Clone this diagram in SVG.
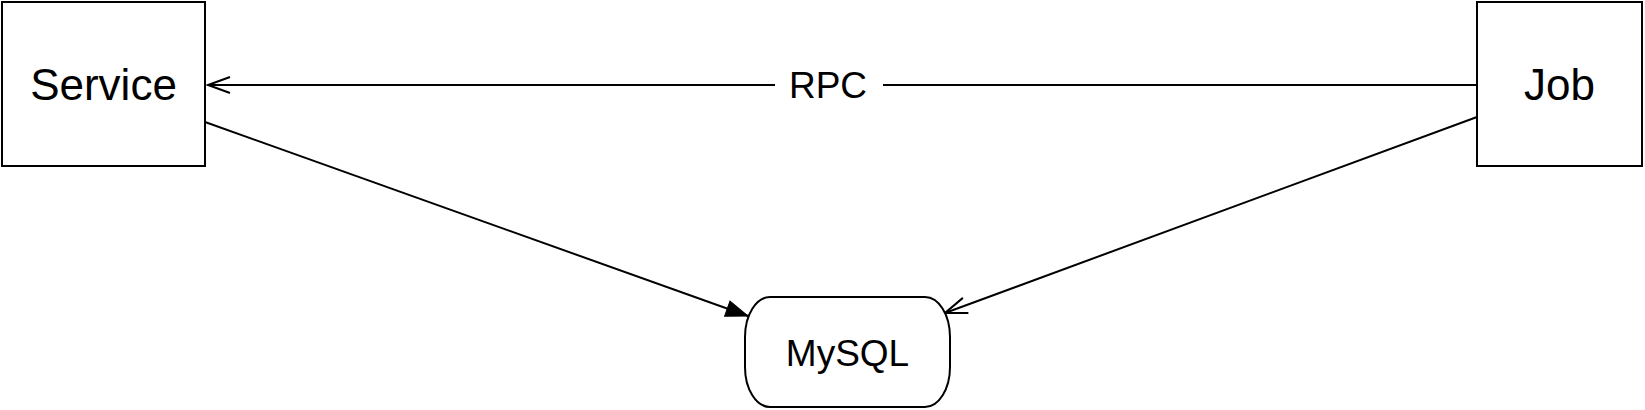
<svg xmlns="http://www.w3.org/2000/svg" width="1645" height="410" viewBox="0 0 1645 410">
  <style>
    .box { fill: #ffffff; stroke: #000000; stroke-width: 2; }
    .edge { fill: none; stroke: #000000; stroke-width: 2; }
    .lbl { font-family: "Liberation Sans", Arial, Helvetica, sans-serif; fill: #000000; text-anchor: middle; }
    .big { font-size: 44px; }
    .mid { font-size: 37px; }
  </style>
  <defs>
    <marker id="open" markerUnits="userSpaceOnUse" markerWidth="30" markerHeight="24" viewBox="-24 -12 30 24" refX="0" refY="0" orient="auto">
      <path d="M -22,-8 L 0,0 L -22,8" fill="none" stroke="#000000" stroke-width="2"/>
    </marker>
    <marker id="filled" markerUnits="userSpaceOnUse" markerWidth="30" markerHeight="24" viewBox="-24 -12 30 24" refX="0" refY="0" orient="auto">
      <path d="M -22,-8 L 0,0 L -22,8 Z" fill="#000000" stroke="#000000" stroke-width="1"/>
    </marker>
  </defs>

  <g id="connectors">
    <line class="edge" x1="1477" y1="85" x2="208" y2="85" marker-end="url(#open)"/>
    <rect x="775" y="60" width="108" height="50" fill="#ffffff"/>
    <text class="lbl mid" x="828" y="98">RPC</text>
    <line class="edge" x1="205" y1="122" x2="748" y2="316" marker-end="url(#filled)"/>
    <line class="edge" x1="1477" y1="117" x2="945" y2="313" marker-end="url(#open)"/>
  </g>

  <g id="service">
    <rect class="box" x="2" y="2" width="203" height="164"/>
    <text class="lbl big" x="103.5" y="100">Service</text>
  </g>

  <g id="job">
    <rect class="box" x="1477" y="2" width="165" height="164"/>
    <text class="lbl big" x="1559.5" y="100">Job</text>
  </g>

  <g id="mysql">
    <rect class="box" x="745" y="297" width="205" height="110" rx="25" ry="40"/>
    <text class="lbl mid" x="847.5" y="366">MySQL</text>
  </g>
</svg>
